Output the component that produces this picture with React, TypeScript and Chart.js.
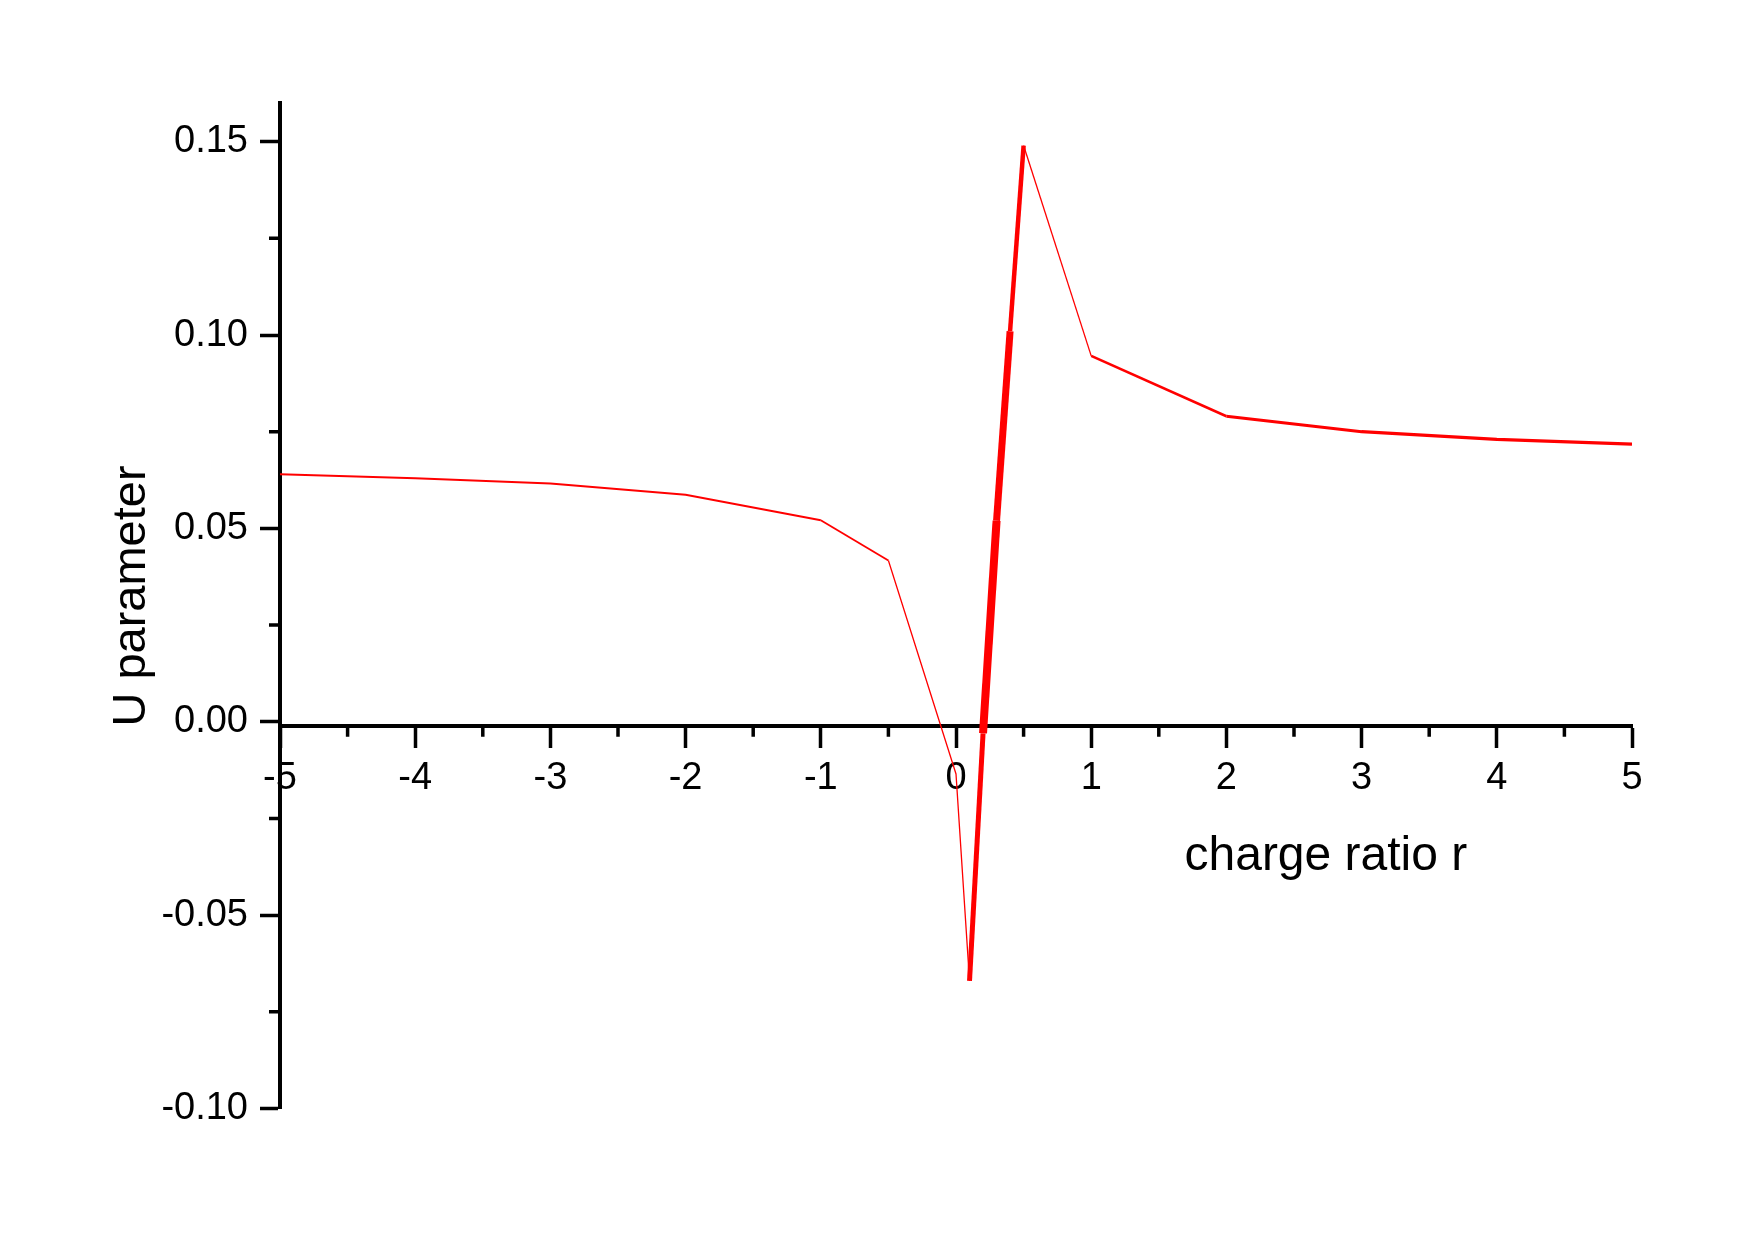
import React, { useEffect, useRef } from 'react';
import { Chart, registerables } from 'chart.js';

Chart.register(...registerables);

// ---- data ----
const rValues = [-5, -4, -3, -2, -1, -0.5, 0, 0.1, 0.2, 0.3, 0.4, 0.5, 1, 2, 3, 4, 5];
const uValues = [0.064, 0.063, 0.0616, 0.0587, 0.0521, 0.0417, -0.0135, -0.067, -0.003, 0.052, 0.101, 0.149, 0.0946, 0.079, 0.075, 0.073, 0.0718];

const xMajorTicks = [-5, -4, -3, -2, -1, 0, 1, 2, 3, 4, 5];
const xMinorTicks = [-4.5, -3.5, -2.5, -1.5, -0.5, 0.5, 1.5, 2.5, 3.5, 4.5];
const yMajorTicks = [-0.1, -0.05, 0, 0.05, 0.1, 0.15];
const yMinorTicks = [-0.075, -0.025, 0.025, 0.075, 0.125];

const xTitle = 'charge ratio r';
const yTitle = 'U parameter';

// ---- style ----
const segmentWidths = [2, 2, 2, 2, 1.8, 1.3, 1.3, 5, 8, 7, 4.5, 1.3, 2.6, 3.2, 3.2, 3.2];
const FONT = '"Liberation Sans", Arial, Helvetica, sans-serif';
const AXIS_CROSS = -0.001; // x-axis line sits a hair below the 0.00 tick in the original

const axisDecor = {
  id: 'axisDecor',
  afterDraw(chart: any) {
    const { ctx, chartArea, scales } = chart;
    const x = scales.x;
    const y = scales.y;
    const axisX = chartArea.left;
    const axisY = y.getPixelForValue(AXIS_CROSS);
    ctx.save();
    ctx.strokeStyle = '#000';
    ctx.lineWidth = 3.5;
    ctx.beginPath();
    yMinorTicks.forEach((v) => {
      const p = y.getPixelForValue(v);
      ctx.moveTo(axisX - 11, p);
      ctx.lineTo(axisX, p);
    });
    xMinorTicks.forEach((v) => {
      const p = x.getPixelForValue(v);
      ctx.moveTo(p, axisY);
      ctx.lineTo(p, axisY + 11);
    });
    ctx.stroke();

    ctx.fillStyle = '#000';
    ctx.font = `48px ${FONT}`;
    ctx.textAlign = 'left';
    ctx.textBaseline = 'alphabetic';
    ctx.fillText(xTitle, x.getPixelForValue(1.69), axisY + 144);

    ctx.font = `47px ${FONT}`;
    ctx.translate(132, 596);
    ctx.rotate(-Math.PI / 2);
    ctx.textAlign = 'center';
    ctx.textBaseline = 'middle';
    ctx.fillText(yTitle, 0, 0);
    ctx.restore();
  },
};

export default function App() {
  const canvasRef = useRef<HTMLCanvasElement | null>(null);

  useEffect(() => {
    if (!canvasRef.current) return;
    const points = rValues.map((r, i) => ({ x: r, y: uValues[i] }));
    const chart = new Chart(canvasRef.current, {
      type: 'line',
      data: {
        datasets: [
          {
            data: points,
            borderColor: '#ff0000',
            backgroundColor: '#ff0000',
            borderWidth: 2,
            pointRadius: 0,
            tension: 0,
            fill: false,
            borderJoinStyle: 'miter',
            borderCapStyle: 'butt',
            segment: {
              borderWidth: (c: any) => segmentWidths[c.p0DataIndex],
            },
          },
        ],
      },
      options: {
        animation: false,
        responsive: false,
        devicePixelRatio: 1,
        layout: { padding: { left: 0, right: 122, top: 103, bottom: 131.5 } },
        plugins: {
          legend: { display: false },
          tooltip: { enabled: false },
          title: { display: false },
        },
        scales: {
          x: {
            type: 'linear',
            position: { y: AXIS_CROSS } as any,
            min: -5,
            max: 5,
            afterBuildTicks: (s: any) => {
              s.ticks = xMajorTicks.map((v) => ({ value: v }));
            },
            ticks: {
              autoSkip: false,
              maxRotation: 0,
              padding: 10,
              color: '#000',
              font: { family: FONT, size: 38 },
              callback: (v: any) => String(v),
            },
            grid: {
              display: true,
              drawOnChartArea: false,
              drawTicks: true,
              tickLength: 20,
              tickWidth: 3.5,
              tickColor: '#000',
            },
            border: { display: true, color: '#000', width: 4 },
          },
          y: {
            type: 'linear',
            position: 'left',
            min: -0.1,
            max: 0.16,
            afterBuildTicks: (s: any) => {
              s.ticks = yMajorTicks.map((v) => ({ value: v }));
            },
            afterFit: (s: any) => {
              s.width = 280;
            },
            ticks: {
              autoSkip: false,
              padding: 12,
              color: '#000',
              font: { family: FONT, size: 38 },
              callback: (v: any) => Number(v).toFixed(2),
            },
            grid: {
              display: true,
              drawOnChartArea: false,
              drawTicks: true,
              tickLength: 20,
              tickWidth: 3.5,
              tickColor: '#000',
            },
            border: { display: true, color: '#000', width: 4 },
          },
        },
      },
      plugins: [axisDecor],
    });
    return () => chart.destroy();
  }, []);

  return (
    <div style={{ position: 'absolute', left: 0, top: 0, width: 1754, height: 1240, background: '#fff' }}>
      <canvas ref={canvasRef} width={1754} height={1240} />
    </div>
  );
}
